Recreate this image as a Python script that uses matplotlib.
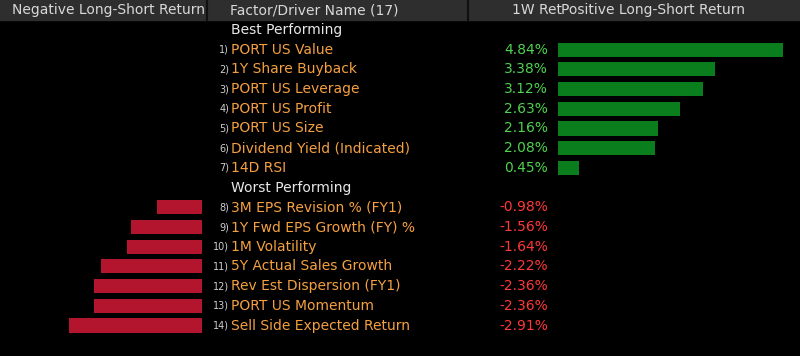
import matplotlib.pyplot as plt

best_names = ["PORT US Value", "1Y Share Buyback", "PORT US Leverage", "PORT US Profit",
              "PORT US Size", "Dividend Yield (Indicated)", "14D RSI"]
best_rets = [4.84, 3.38, 3.12, 2.63, 2.16, 2.08, 0.45]
worst_names = ["3M EPS Revision % (FY1)", "1Y Fwd EPS Growth (FY) %", "1M Volatility",
               "5Y Actual Sales Growth", "Rev Est Dispersion (FY1)", "PORT US Momentum",
               "Sell Side Expected Return"]
worst_rets = [-0.98, -1.56, -1.64, -2.22, -2.36, -2.36, -2.91]

bg = "black"
orange = "#f5a040"
green_txt = "#4fd24f"
red_txt = "#ff3838"
green_bar = "#0a7d1c"
red_bar = "#b3142e"

W, H = 800, 356
row_h = 19.7
y0 = 30  # pixel centre of first row

fig = plt.figure(figsize=(8, 3.56), dpi=100, facecolor=bg)
ylim = ((H - y0) / row_h, -y0 / row_h)

ax = fig.add_axes([0, 0, 1, 1])
ax.set_facecolor(bg)
ax.set_xlim(0, W)
ax.set_ylim(*ylim)
ax.axis("off")

# header band
ax.axhspan(-y0 / row_h, (20 - y0) / row_h, color="#2e2e2e", zorder=0)
for xd in [207, 468]:
    ax.plot([xd, xd], [-y0 / row_h, (20 - y0) / row_h], color="#101010", lw=1.5)
hy = (10 - y0) / row_h
hkw = dict(color="#d8d8d8", fontsize=10, va="center")
ax.text(12, hy, "Negative Long-Short Return", **hkw)
ax.text(230, hy, "Factor/Driver Name (17)", **hkw)
ax.text(512, hy, "1W Ret", **hkw)
ax.text(561, hy, "Positive Long-Short Return", **hkw)

# sections
rows_best = list(range(1, 8))
rows_worst = list(range(9, 16))
ax.text(231, 0, "Best Performing", color="#e8e8e8", fontsize=10, va="center")
ax.text(231, 8, "Worst Performing", color="#e8e8e8", fontsize=10, va="center")

for i, (r, name, v) in enumerate(zip(rows_best + rows_worst, best_names + worst_names,
                                     best_rets + worst_rets)):
    ax.text(229, r, f"{i + 1})", color="#cfcfcf", fontsize=7, va="center", ha="right")
    ax.text(231, r, name, color=orange, fontsize=10, va="center")
    ax.text(548, r, f"{v:.2f}%", color=green_txt if v > 0 else red_txt,
            fontsize=10, va="center", ha="right")

pos_scale = 46.4  # pixels per percent
neg_scale = 45.6
ax_pos = fig.add_axes([558 / W, 0, (W - 558) / W, 1])
ax_pos.set_xlim(0, (W - 558) / pos_scale)
ax_pos.set_ylim(*ylim)
ax_pos.barh(rows_best, best_rets, height=0.72, color=green_bar)
ax_pos.axis("off")

ax_neg = fig.add_axes([0, 0, 202 / W, 1])
ax_neg.set_xlim(-202 / neg_scale, 0)
ax_neg.set_ylim(*ylim)
ax_neg.barh(rows_worst, worst_rets, height=0.72, color=red_bar)
ax_neg.axis("off")

fig.savefig("out.png", dpi=100, facecolor=bg)
